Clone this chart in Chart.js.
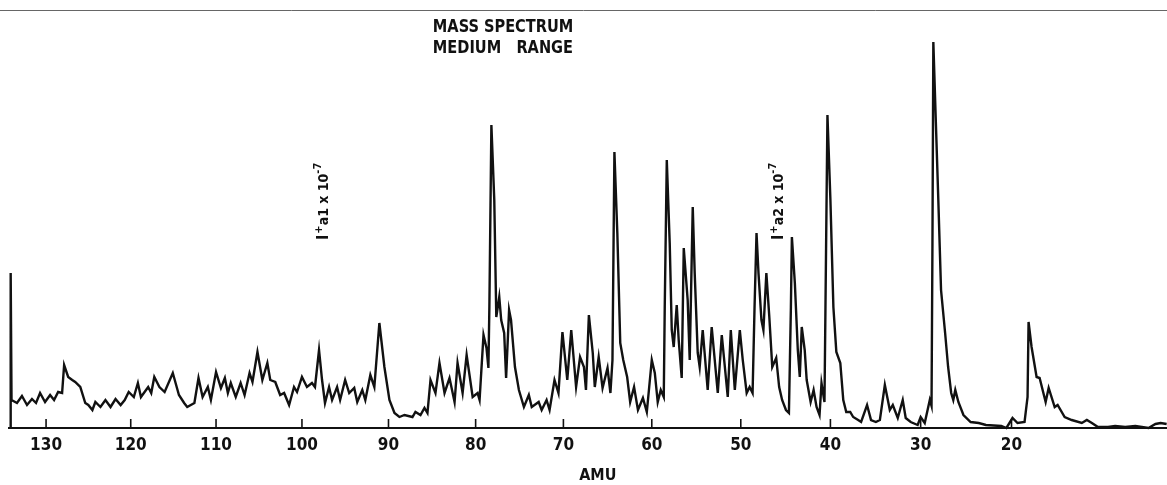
<!DOCTYPE html>
<html>
<head>
<meta charset="utf-8">
<title>Mass spectrum - medium range</title>
<script src="https://cdn.jsdelivr.net/npm/chart.js@4/dist/chart.umd.min.js"></script>
<style>
  html, body { margin: 0; padding: 0; background: #fff; }
  canvas { display: block; }
</style>
</head>
<body>
<canvas id="spectrum" width="1167" height="485"></canvas>
<script>
// Trace, left (high mass) to right (low mass).
const amu = [
  134.20, 134.20, 134.10, 133.45, 132.86, 132.26, 131.67, 131.19, 130.71, 130.12,
  129.52, 129.05, 128.57, 128.10, 127.86, 127.38, 126.90, 126.55, 125.95, 125.36,
  125.00, 124.52, 124.17, 123.57, 122.98, 122.38, 121.79, 121.19, 120.71, 120.24,
  119.64, 119.16, 118.80, 117.95, 117.59, 117.23, 116.63, 116.02, 115.06, 114.34,
  113.73, 113.37, 112.53, 112.05, 111.57, 110.96, 110.60, 110.00, 109.43, 108.97,
  108.62, 108.28, 107.70, 107.13, 106.67, 106.09, 105.75, 105.17, 104.60, 104.02,
  103.68, 103.10, 102.53, 102.07, 101.49, 100.92, 100.57, 100.00, 99.42, 98.84,
  98.49, 98.02, 97.67, 97.33, 96.86, 96.51, 95.93, 95.58, 95.00, 94.53,
  93.95, 93.60, 93.02, 92.67, 92.09, 91.63, 91.05, 90.47, 89.89, 89.31,
  88.74, 88.16, 87.24, 86.90, 86.32, 85.86, 85.52, 85.17, 84.60, 84.14,
  83.56, 82.99, 82.41, 82.07, 81.49, 81.03, 80.34, 79.78, 79.55, 79.10,
  78.76, 78.54, 78.43, 78.20, 77.87, 77.64, 77.30, 77.08, 76.74, 76.52,
  76.18, 75.96, 75.51, 75.06, 74.49, 73.93, 73.60, 72.81, 72.47, 71.91,
  71.57, 71.01, 70.56, 70.11, 69.56, 69.11, 68.56, 68.11, 67.67, 67.44,
  67.11, 66.67, 66.44, 66.00, 65.56, 65.00, 64.67, 64.44, 64.22, 63.89,
  63.56, 63.22, 62.78, 62.44, 62.00, 61.56, 61.00, 60.56, 60.00, 59.66,
  59.33, 58.99, 58.65, 58.54, 58.31, 57.98, 57.75, 57.53, 57.19, 56.97,
  56.63, 56.40, 55.96, 55.73, 55.39, 55.17, 54.83, 54.61, 54.27, 53.71,
  53.26, 52.92, 52.58, 52.13, 51.46, 51.12, 50.67, 50.11, 49.78, 49.34,
  49.01, 48.68, 48.46, 48.24, 48.02, 47.69, 47.47, 47.14, 46.81, 46.48,
  46.04, 45.71, 45.38, 44.95, 44.62, 44.40, 44.29, 43.96, 43.63, 43.41,
  43.19, 42.86, 42.64, 42.20, 41.87, 41.54, 41.21, 40.99, 40.66, 40.55,
  40.33, 40.00, 39.67, 39.34, 38.90, 38.57, 38.24, 37.80, 37.47, 36.92,
  36.59, 35.93, 35.49, 34.95, 34.51, 33.96, 33.41, 33.08, 32.53, 31.98,
  31.65, 31.10, 30.33, 30.00, 29.55, 28.99, 28.80, 28.70, 28.60, 28.40,
  28.05, 27.75, 27.30, 26.97, 26.63, 26.40, 26.18, 25.84, 25.28, 24.49,
  23.60, 22.81, 21.12, 20.56, 19.89, 19.34, 18.57, 18.24, 18.13, 17.80,
  17.25, 16.92, 16.26, 15.93, 15.27, 14.95, 14.18, 13.41, 12.31, 11.76,
  11.21, 10.55, 9.45, 8.68, 7.58, 6.48, 5.05, 4.29, 3.74, 3.08
];
const intensity = [
  0, 38.75, 7, 6.25, 8, 5.75, 7.25, 6.25, 8.75, 6.5,
  8.25, 7, 9, 8.75, 15.75, 12.75, 12, 11.5, 10.25, 6.25,
  5.75, 4.5, 6.5, 5.25, 7, 5.25, 7.25, 5.75, 7, 9,
  7.75, 11.25, 7.75, 10.25, 8.75, 12.75, 10.25, 9, 13.75, 8.25,
  6.25, 5.25, 6.25, 12.5, 7.75, 10.25, 7, 14, 10, 12.5,
  8.75, 11.25, 7.75, 11.25, 8.25, 13.75, 11.5, 19, 12, 16.25,
  12, 11.5, 8.25, 8.75, 5.75, 10.25, 9, 12.75, 10.25, 11.25,
  10.25, 19.5, 12, 6.25, 10.25, 7, 10.25, 7, 12, 8.75,
  10, 6.5, 9.5, 7, 13.25, 10.25, 26.25, 15.25, 7, 3.75,
  2.75, 3.25, 2.75, 4, 3.25, 5, 3.75, 12, 8.75, 16.25,
  8.75, 12.5, 6.5, 16.25, 8.75, 18.25, 7.75, 8.75, 7, 23.25,
  20, 15, 30.25, 75.75, 57, 27.75, 32.75, 27, 23.75, 12.5,
  29.5, 27, 15.25, 9.5, 5.25, 8.25, 5.25, 6.5, 4.5, 7,
  4.5, 12, 8.75, 24, 12, 24.5, 10.25, 17.75, 15.25, 9.5,
  28.25, 18.75, 10.25, 17.75, 10, 15, 8.75, 17, 69, 48.75,
  21.25, 17, 12.75, 6.5, 10.25, 4.5, 7.5, 4, 17, 13.75,
  6.5, 9.5, 7.75, 30.25, 67, 46.25, 24.5, 20.25, 30.75, 22,
  12.5, 45, 32, 17, 55.25, 38.75, 18.75, 15.25, 24.5, 9.5,
  25.25, 17, 8.75, 23.25, 7.75, 24.5, 9.5, 24.5, 17, 8.75,
  10.25, 8.75, 30.25, 48.75, 38.75, 27, 24.5, 38.75, 27.75, 15.25,
  17.5, 10.25, 7, 4.5, 3.75, 30.25, 47.75, 36.25, 19.5, 12.75,
  25.25, 19.5, 12, 6.5, 9.5, 5.25, 3.25, 11.25, 6.5, 30.25,
  78.25, 57, 30.25, 19, 16.25, 7, 4, 4, 2.75, 2,
  1.5, 5.75, 2, 1.5, 2, 10.75, 4.5, 5.75, 2.5, 7,
  2.5, 1.5, 0.75, 2.75, 1.25, 7, 5.5, 45, 96.5, 82,
  57, 34.5, 23.75, 15.25, 8.75, 7, 9.5, 6.5, 3.25, 1.5,
  1.25, 0.75, 0.5, 0, 2.5, 1.25, 1.5, 7.75, 26.5, 20.25,
  12.75, 12.5, 6.5, 10, 5.25, 5.75, 2.75, 2, 1.25, 2,
  1.25, 0.25, 0.25, 0.5, 0.25, 0.5, 0, 1, 1.25, 1
];
const tickValues = [130, 120, 110, 100, 90, 80, 70, 60, 50, 40, 30, 20];
const titleLines = ['MASS SPECTRUM', 'MEDIUM   RANGE'];
const axisName = 'AMU';
// rotated current-scale notes: [amu, intensity at the text start, range digit]
const rangeNotes = [[97.7, 47, '1'], [45.9, 47, '2']];

const AMU_MIN = 3.15;
const AMU_MAX = 134.4;
const SWEEP_BOW = 0.046; // the magnetic sweep is not quite linear in mass
const LETTER = "'Liberation Sans Narrow', 'DejaVu Sans Condensed', sans-serif";

// Linear scale with the slight bow of the recorder's mass sweep.
class SweepScale extends Chart.LinearScale {
  getPixelForValue(value) {
    if (value === null || value === undefined) return NaN;
    const u = (value - this._startValue) / this._valueRange;
    return this.getPixelForDecimal(u + SWEEP_BOW * u * (1 - u));
  }
  getValueForPixel(pixel) {
    const d = this.getDecimalForPixel(pixel);
    const k = SWEEP_BOW;
    const u = ((1 + k) - Math.sqrt((1 + k) * (1 + k) - 4 * k * d)) / (2 * k);
    return this._startValue + u * this._valueRange;
  }
}
SweepScale.id = 'sweep';
SweepScale.defaults = Chart.LinearScale.defaults;
Chart.register(SweepScale);

const points = amu.map((m, i) => ({ x: m, y: intensity[i] }));

// hand lettering is narrower than the installed fonts
function letter(ctx, text, x, y, squeeze) {
  ctx.save();
  ctx.translate(x, y);
  ctx.scale(squeeze, 1);
  ctx.fillText(text, 0, 0);
  ctx.restore();
}

// inward tick marks, top frame line, heading, axis name and range notes
const paperMarks = {
  id: 'paperMarks',
  afterDraw(chart) {
    const ctx = chart.ctx;
    const xs = chart.scales.x;
    const ys = chart.scales.y;
    const area = chart.chartArea;
    ctx.save();

    ctx.strokeStyle = '#111';
    ctx.lineWidth = 1.6;
    xs.ticks.forEach(t => {
      const px = xs.getPixelForValue(t.value);
      ctx.beginPath();
      ctx.moveTo(px, area.bottom);
      ctx.lineTo(px, area.bottom - 9);
      ctx.stroke();
    });

    ctx.strokeStyle = '#666';
    ctx.lineWidth = 1;
    ctx.beginPath();
    ctx.moveTo(0, area.top + 0.5);
    ctx.lineTo(chart.width, area.top + 0.5);
    ctx.stroke();

    ctx.fillStyle = '#111';
    ctx.font = 'bold 18px ' + LETTER;
    ctx.textBaseline = 'alphabetic';
    ctx.textAlign = 'left';
    letter(ctx, titleLines[0], xs.getPixelForValue(84.9), ys.getPixelForValue(99), 0.9);
    letter(ctx, titleLines[1], xs.getPixelForValue(84.9), ys.getPixelForValue(93.75), 0.9);

    ctx.font = 'bold 16px ' + LETTER;
    ctx.textAlign = 'center';
    ctx.textBaseline = 'middle';
    ctx.fillText(axisName, xs.getPixelForValue(66.1), chart.height - 9);

    ctx.textAlign = 'left';
    ctx.textBaseline = 'alphabetic';
    rangeNotes.forEach(([m, v, digit]) => {
      ctx.save();
      ctx.translate(xs.getPixelForValue(m) + 6, ys.getPixelForValue(v));
      ctx.rotate(-Math.PI / 2);
      const parts = [
        ['I', 'bold 16px ' + LETTER, 0],
        ['+', 'bold 11px ' + LETTER, -6],
        ['a' + digit + ' x 10', 'bold 14px ' + LETTER, 0],
        ['-7', 'bold 11px ' + LETTER, -7]
      ];
      let cx = 0;
      parts.forEach(([txt, font, dy]) => {
        ctx.font = font;
        ctx.fillText(txt, cx, dy);
        cx += ctx.measureText(txt).width + (txt === 'I' ? 1 : 0);
      });
      ctx.restore();
    });

    ctx.restore();
  }
};

new Chart(document.getElementById('spectrum'), {
  type: 'line',
  data: {
    datasets: [{
      data: points,
      borderColor: '#111',
      borderWidth: 2.4,
      pointRadius: 0,
      tension: 0,
      clip: false
    }]
  },
  options: {
    responsive: false,
    animation: false,
    devicePixelRatio: 1,
    events: [],
    layout: { padding: { left: 9, right: 1, top: 10, bottom: 0 } },
    plugins: {
      legend: { display: false },
      tooltip: { enabled: false }
    },
    scales: {
      x: {
        type: 'sweep',
        min: AMU_MIN,
        max: AMU_MAX,
        reverse: true,
        afterBuildTicks: scale => { scale.ticks = tickValues.map(v => ({ value: v })); },
        afterFit: scale => { scale.height = 57; },
        grid: { display: false, drawTicks: false },
        border: { display: true, color: '#111', width: 2 },
        ticks: {
          autoSkip: false,
          maxRotation: 0,
          padding: 7,
          color: '#111',
          font: { family: LETTER, size: 17, weight: 'bold' },
          callback: v => String(v)
        }
      },
      y: {
        display: false,
        min: 0,
        max: 104.5
      }
    }
  },
  plugins: [paperMarks]
});
</script>
</body>
</html>
